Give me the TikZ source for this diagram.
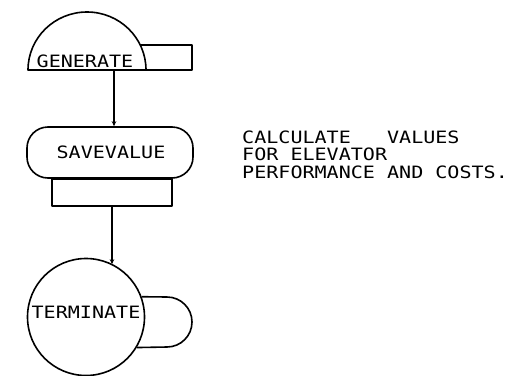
\documentclass[tikz,border=0pt]{standalone}
\usepackage{fontspec}
\newfontfamily\lett[FakeStretch=1.18]{DejaVu Sans Mono}
\usetikzlibrary{arrows.meta}
\tikzset{
  shp/.style={draw=black, line width=1.6pt, line join=round},
  lbl/.style={font=\lett\fontsize{17}{20}\selectfont, inner sep=0pt, anchor=base},
  note/.style={font=\lett\fontsize{17}{20}\selectfont, inner sep=0pt, anchor=base west},
  arr/.style={draw=black, line width=1.6pt, -{Stealth[length=5pt,width=4.5pt]}}
}
\begin{document}
\begin{tikzpicture}[x=1pt,y=-1pt]
\useasboundingbox[fill=white] (0,0) rectangle (516,375);
% GENERATE block
\draw[shp] (28,70) arc[start angle=180,end angle=360,x radius=59,y radius=58] -- cycle;
\draw[shp] (140.2,45) -- (192,45) -- (192,70) -- (146,70);
\node[lbl] (gen) at (85,67.5) {GENERATE};
\coordinate (genb) at (114,70);
% SAVEVALUE block
\node[shp, rounded corners=21pt, minimum width=166pt, minimum height=51pt, inner sep=0pt] (sv) at (110,152.5) {};
\node[lbl] (svl) at (111,158) {SAVEVALUE};
\node[shp, minimum width=120pt, minimum height=27pt, inner sep=0pt, anchor=north] (svbox) at (112,178) {};
% TERMINATE block
\node[shp, circle, minimum size=117pt, inner sep=0pt] (term) at (86,317) {};
\node[lbl] (terml) at (86,318) {TERMINATE};
\draw[shp] (term.20) -- (167,297) arc[start angle=270,end angle=450,radius=25] -- (term.-31);
% connectors
\draw[arr] (genb) -- (genb |- sv.north);
\draw[arr] (svbox.south) -- (term.63.4 -| svbox.south);
% comment
\node[note] (n1) at (242,143) {CALCULATE\ \ \ VALUES};
\node[note] (n2) at (242,160.5) {FOR ELEVATOR};
\node[note] (n3) at (242,178) {PERFORMANCE AND COSTS.};
\end{tikzpicture}
\end{document}
